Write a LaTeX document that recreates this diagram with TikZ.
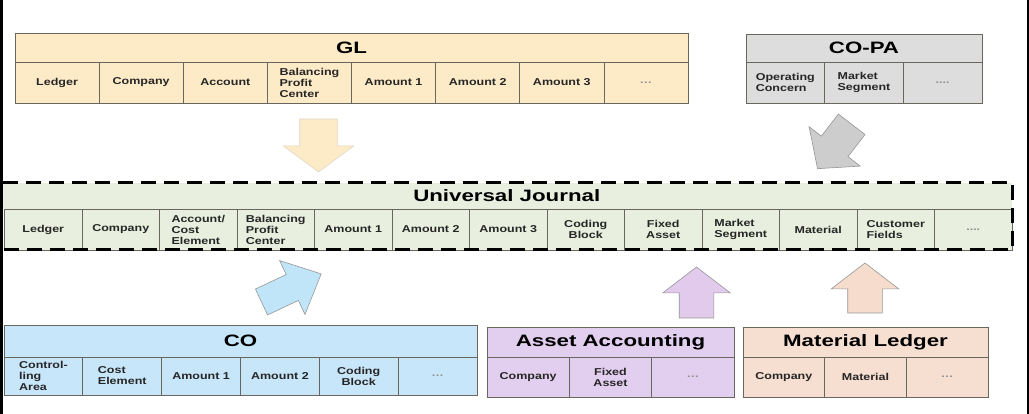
\documentclass[tikz,border=0pt]{standalone}
\usepackage{fontspec}
\usepackage{tikz}
\usetikzlibrary{positioning}
\usetikzlibrary{shapes.arrows}
\newfontfamily\cellfont[FakeStretch=1.25]{Liberation Sans}
\newfontfamily\titlefont[FakeStretch=1.35]{Liberation Sans}
\definecolor{boxline}{RGB}{105,102,96}
\definecolor{arrowline}{RGB}{150,150,150}
\definecolor{glfill}{RGB}{253,235,200}
\definecolor{copafill}{RGB}{221,221,221}
\definecolor{ujfill}{RGB}{232,239,222}
\definecolor{cofill}{RGB}{200,230,250}
\definecolor{aafill}{RGB}{226,206,238}
\definecolor{mlfill}{RGB}{246,222,208}
\definecolor{copaarrow}{RGB}{205,205,205}
\definecolor{coarrow}{RGB}{192,228,248}
\definecolor{aaarrow}{RGB}{226,202,236}
\definecolor{mlarrow}{RGB}{245,220,204}

\tikzset{
    cell/.style={draw=boxline, line width=0.7pt, inner sep=1pt, outer sep=0pt, align=left,
        text=black!85, font=\cellfont\bfseries\fontsize{10}{11}\selectfont},
    title/.style={draw=boxline, line width=0.7pt, inner sep=0pt, outer sep=0pt, anchor=north west,
        text=black, font=\titlefont\bfseries\fontsize{16.5}{18}\selectfont},
    dots/.style={text=black!45},
    blockarrow/.style={single arrow, draw=arrowline, line width=0.6pt, inner xsep=0pt, outer sep=0pt,
        anchor=tail}
}

\begin{document}
\begin{tikzpicture}[x=1pt,y=1pt]
        \useasboundingbox (0,0) rectangle (1029,414);

        % GL
        \node[title, fill=glfill, minimum width=673pt, minimum height=29pt] (gl) at (15,381) {GL};
        \tikzset{glcell/.style={cell, fill=glfill, minimum width=84.125pt, minimum height=41pt}}
        \node[glcell, anchor=north west] (gl1) at (gl.south west) {Ledger};
        \node[glcell, right=0pt of gl1] (gl2) {Company};
        \node[glcell, right=0pt of gl2] (gl3) {Account};
        \node[glcell, right=0pt of gl3] (gl4) {Balancing\\Profit\\Center};
        \node[glcell, right=0pt of gl4] (gl5) {Amount 1};
        \node[glcell, right=0pt of gl5] (gl6) {Amount 2};
        \node[glcell, right=0pt of gl6] (gl7) {Amount 3};
        \node[glcell, dots, right=0pt of gl7] (gl8) {\ldots};

        % CO-PA
        \node[title, fill=copafill, minimum width=236pt, minimum height=28pt] (copa) at (746,380) {CO-PA};
        \tikzset{copacell/.style={cell, fill=copafill, minimum width=78.67pt, minimum height=41pt}}
        \node[copacell, anchor=north west] (copa1) at (copa.south west) {Operating\\Concern};
        \node[copacell, right=0pt of copa1] (copa2) {Market\\Segment};
        \node[copacell, dots, right=0pt of copa2] (copa3) {....};

        % Universal Journal
        \node[title, draw=none, fill=ujfill, minimum width=1010.5pt, minimum height=26pt] (uj) at (1.5,231) {Universal Journal};
        \tikzset{ujcell/.style={cell, fill=ujfill, minimum width=77.5pt, minimum height=41pt}}
        \node[ujcell, anchor=north west] (uj1) at (4.5,205) {Ledger};
        \node[ujcell, right=0pt of uj1] (uj2) {Company};
        \node[ujcell, right=0pt of uj2] (uj3) {Account/\\Cost\\Element};
        \node[ujcell, right=0pt of uj3] (uj4) {Balancing\\Profit\\Center};
        \node[ujcell, right=0pt of uj4] (uj5) {Amount 1};
        \node[ujcell, right=0pt of uj5] (uj6) {Amount 2};
        \node[ujcell, right=0pt of uj6] (uj7) {Amount 3};
        \node[ujcell, align=center, right=0pt of uj7] (uj8) {Coding\\Block};
        \node[ujcell, align=center, right=0pt of uj8] (uj9) {Fixed\\Asset};
        \node[ujcell, right=0pt of uj9] (uj10) {Market\\Segment};
        \node[ujcell, right=0pt of uj10] (uj11) {Material};
        \node[ujcell, right=0pt of uj11] (uj12) {Customer\\Fields};
        \node[ujcell, dots, right=0pt of uj12] (uj13) {....};
        \draw[line width=3pt, dash pattern=on 15pt off 8pt] (uj.north west) rectangle (uj13.south east);

        % CO
        \node[title, fill=cofill, minimum width=473pt, minimum height=32pt] (co) at (4,89) {CO};
        \tikzset{cocell/.style={cell, fill=cofill, minimum width=78.83pt, minimum height=38pt}}
        \node[cocell, anchor=north west] (co1) at (co.south west) {Control-\\ling\\Area};
        \node[cocell, right=0pt of co1] (co2) {Cost\\Element};
        \node[cocell, right=0pt of co2] (co3) {Amount 1};
        \node[cocell, right=0pt of co3] (co4) {Amount 2};
        \node[cocell, align=center, right=0pt of co4] (co5) {Coding\\Block};
        \node[cocell, dots, right=0pt of co5] (co6) {\ldots};

        % Asset Accounting
        \node[title, fill=aafill, minimum width=247pt, minimum height=30pt] (aa) at (487,87) {Asset Accounting};
        \tikzset{aacell/.style={cell, fill=aafill, minimum width=82.33pt, minimum height=40pt}}
        \node[aacell, anchor=north west] (aa1) at (aa.south west) {Company};
        \node[aacell, align=center, right=0pt of aa1] (aa2) {Fixed\\Asset};
        \node[aacell, dots, right=0pt of aa2] (aa3) {\ldots};

        % Material Ledger
        \node[title, fill=mlfill, minimum width=245pt, minimum height=30pt] (ml) at (743,87) {Material Ledger};
        \tikzset{mlcell/.style={cell, fill=mlfill, minimum width=81.67pt, minimum height=40pt}}
        \node[mlcell, anchor=north west] (ml1) at (ml.south west) {Company};
        \node[mlcell, right=0pt of ml1] (ml2) {Material};
        \node[mlcell, dots, right=0pt of ml2] (ml3) {\ldots};

        % arrows
        \node[blockarrow, fill=glfill, draw=glfill!80!black!60, minimum height=53pt, inner ysep=18.5pt,
            single arrow head extend=16.5pt, single arrow tip angle=107, rotate=-90] (glarrow) at (318.5,295) {};
        \node[blockarrow, fill=copaarrow, minimum height=56pt, inner ysep=16.5pt,
            single arrow head extend=15.5pt, single arrow tip angle=98, rotate=232.4] (copaarrow) at (851.7,289.7) {};
        \node[blockarrow, fill=coarrow, minimum height=66pt, inner ysep=14pt,
            single arrow head extend=15.5pt, single arrow tip angle=86, rotate=25.2] (coarrow) at (261.5,112) {};
        \node[blockarrow, fill=aaarrow, minimum height=51pt, inner ysep=17pt,
            single arrow head extend=16.5pt, single arrow tip angle=105, rotate=90] (aaarrow) at (696.5,96) {};
        \node[blockarrow, fill=mlarrow, minimum height=50pt, inner ysep=17pt,
            single arrow head extend=16.5pt, single arrow tip angle=105, rotate=90] (mlarrow) at (865,101) {};

        \fill (0,0) rectangle (3,414);
        \fill (1026.5,0) rectangle (1029,414);
    \end{tikzpicture}
\end{document}
